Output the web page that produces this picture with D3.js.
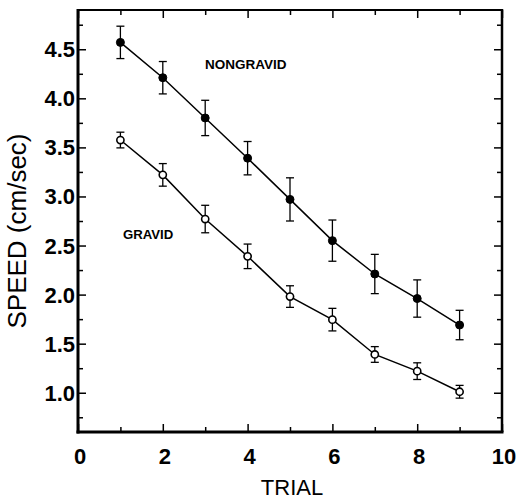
<!DOCTYPE html>
<html>
<head>
<meta charset="utf-8">
<script src="https://cdn.jsdelivr.net/npm/d3@7"></script>
<style>
  body { margin: 0; background: #fff; }
  svg { display: block; }
  text { font-family: "Liberation Sans", Arial, sans-serif; fill: #000; }
</style>
</head>
<body>
<svg id="chart" width="516" height="501"></svg>
<script>
const trials = [1, 2, 3, 4, 5, 6, 7, 8, 9];
const nongravid = [4.57, 4.21, 3.80, 3.39, 2.97, 2.55, 2.21, 1.96, 1.69];
const nongravidErr = [0.165, 0.165, 0.18, 0.17, 0.22, 0.21, 0.20, 0.19, 0.15];
const gravid = [3.575, 3.22, 2.77, 2.39, 1.98, 1.745, 1.39, 1.22, 1.01];
const gravidErr = [0.08, 0.115, 0.14, 0.125, 0.11, 0.115, 0.08, 0.085, 0.065];
const xMajor = [0, 2, 4, 6, 8, 10];
const xMinor = [1, 3, 5, 7, 9];
const yMajor = [1.0, 1.5, 2.0, 2.5, 3.0, 3.5, 4.0, 4.5];
const yMinor = [0.75, 1.25, 1.75, 2.25, 2.75, 3.25, 3.75, 4.25, 4.75];

const svg = d3.select("#chart");
const L = 78, R = 502, T = 10, B = 432;
const x = d3.scaleLinear().domain([0, 10]).range([L, R]);
const y = d3.scaleLinear().domain([0.6, 4.9]).range([B, T]);

// inward ticks on all four sides
const g = svg.append("g");
function ticks(axisFn, vals, size, transform) {
  g.append("g").attr("transform", transform)
    .call(axisFn.tickValues(vals).tickSize(size).tickFormat(""))
    .call(s => s.select(".domain").remove())
    .call(s => s.selectAll("line").attr("stroke", "#000").attr("stroke-width", 1.5));
}
ticks(d3.axisTop(x), xMajor, 8, `translate(0,${B})`);
ticks(d3.axisTop(x), xMinor, 5, `translate(0,${B})`);
ticks(d3.axisBottom(x), xMajor, 8, `translate(0,${T})`);
ticks(d3.axisBottom(x), xMinor, 5, `translate(0,${T})`);
ticks(d3.axisRight(y), yMajor, 8, `translate(${L},0)`);
ticks(d3.axisRight(y), yMinor, 5, `translate(${L},0)`);
ticks(d3.axisLeft(y), yMajor, 8, `translate(${R},0)`);
ticks(d3.axisLeft(y), yMinor, 5, `translate(${R},0)`);

// frame
svg.append("line").attr("x1", L).attr("x2", L).attr("y1", T - 1).attr("y2", B + 1.5).attr("stroke", "#000").attr("stroke-width", 3);
svg.append("line").attr("x1", L - 1.5).attr("x2", R + 1.5).attr("y1", B).attr("y2", B).attr("stroke", "#000").attr("stroke-width", 3);
svg.append("line").attr("x1", R).attr("x2", R).attr("y1", T - 1).attr("y2", B).attr("stroke", "#000").attr("stroke-width", 2.5);
svg.append("line").attr("x1", L).attr("x2", R + 1).attr("y1", T).attr("y2", T).attr("stroke", "#000").attr("stroke-width", 2);

// tick labels
svg.append("g").selectAll("text").data(xMajor).join("text")
  .attr("x", d => x(d) + 2).attr("y", 464)
  .attr("text-anchor", "middle").attr("font-size", 22).attr("font-weight", "bold")
  .text(d => d);
svg.append("g").selectAll("text").data(yMajor).join("text")
  .attr("x", L - 3).attr("y", d => y(d) + 8)
  .attr("text-anchor", "end").attr("font-size", 22).attr("font-weight", "bold")
  .text(d => d.toFixed(1));

// axis titles
svg.append("text").attr("x", 292).attr("y", 495).attr("text-anchor", "middle")
  .attr("font-size", 22).text("TRIAL");
svg.append("text").attr("transform", "translate(26,231) rotate(-90)")
  .attr("text-anchor", "middle").attr("font-size", 26).text("SPEED (cm/sec)");

// series
function series(vals, errs, filled) {
  const data = trials.map((t, i) => ({ t, v: vals[i], e: errs[i] }));
  const line = d3.line().x(d => x(d.t)).y(d => y(d.v));
  svg.append("path").datum(data).attr("d", line)
    .attr("fill", "none").attr("stroke", "#000").attr("stroke-width", 1.5);
  const eg = svg.append("g").attr("stroke", "#000").attr("stroke-width", 1.3);
  eg.selectAll(".v").data(data).join("line")
    .attr("x1", d => x(d.t)).attr("x2", d => x(d.t))
    .attr("y1", d => y(d.v + d.e)).attr("y2", d => y(d.v - d.e));
  eg.selectAll(".t").data(data).join("line")
    .attr("x1", d => x(d.t) - 4).attr("x2", d => x(d.t) + 4)
    .attr("y1", d => y(d.v + d.e)).attr("y2", d => y(d.v + d.e));
  eg.selectAll(".b").data(data).join("line")
    .attr("x1", d => x(d.t) - 4).attr("x2", d => x(d.t) + 4)
    .attr("y1", d => y(d.v - d.e)).attr("y2", d => y(d.v - d.e));
  svg.append("g").selectAll("circle").data(data).join("circle")
    .attr("cx", d => x(d.t)).attr("cy", d => y(d.v))
    .attr("r", filled ? 4 : 3.6)
    .attr("fill", filled ? "#000" : "#fff")
    .attr("stroke", "#000").attr("stroke-width", filled ? 1 : 1.6);
}
series(nongravid, nongravidErr, true);
series(gravid, gravidErr, false);

// series labels
svg.append("text").attr("x", 205).attr("y", 69).attr("font-size", 13.5).attr("font-weight", "bold").text("NONGRAVID");
svg.append("text").attr("x", 123).attr("y", 239).attr("font-size", 13.2).attr("font-weight", "bold").text("GRAVID");
</script>
</body>
</html>
